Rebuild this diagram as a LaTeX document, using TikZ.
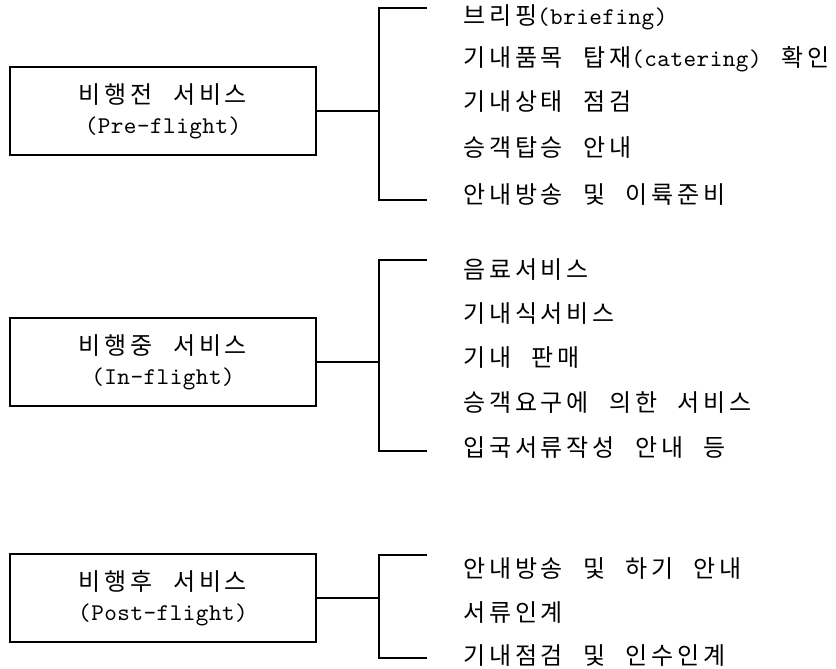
\documentclass[tikz,border=0pt]{standalone}
\usepackage{fontspec}
\newfontfamily\kr{Noto Sans CJK KR}[LetterSpace=16, WordSpace=2.2]
\newfontfamily\ttl{lmmono10-regular}[Extension=.otf, LetterSpace=2]
\begin{document}
\begin{tikzpicture}[x=1pt, y=-1pt,
  every node/.style={font=\fontsize{24}{30}\selectfont\kr},
  catbox/.style={draw, line width=1.6pt, minimum width=306pt, minimum height=88pt, align=center, inner sep=0pt},
  item/.style={anchor=west, inner sep=0pt},
  wire/.style={line width=1.6pt}]
\useasboundingbox (0,0) rectangle (836,669);
% boxes
\node[catbox] (pre)  at (163,111) {비행전 서비스\\{\ttl (Pre-flight)}};
\node[catbox] (in)   at (163,362) {비행중 서비스\\{\ttl (In-flight)}};
\node[catbox] (post) at (163,598) {비행후 서비스\\{\ttl (Post-flight)}};
% junctions and bracket ends
\coordinate (j1) at (379,111);
\coordinate (j1t) at (379,8);   \coordinate (j1b) at (379,200);
\coordinate (e1t) at (427,8);   \coordinate (e1b) at (427,200);
\coordinate (j2) at (379,362);
\coordinate (j2t) at (379,260); \coordinate (j2b) at (379,451);
\coordinate (e2t) at (427,260); \coordinate (e2b) at (427,451);
\coordinate (j3) at (379,598);
\coordinate (j3t) at (379,555); \coordinate (j3b) at (379,658);
\coordinate (e3t) at (427,555); \coordinate (e3b) at (427,658);
\draw[wire] (pre.east) -- (j1);
\draw[wire] (e1t) -- (j1t) -- (j1b) -- (e1b);
\draw[wire] (in.east) -- (j2);
\draw[wire] (e2t) -- (j2t) -- (j2b) -- (e2b);
\draw[wire] (post.east) -- (j3);
\draw[wire] (e3t) -- (j3t) -- (j3b) -- (e3b);
% items
\node[item] (a1) at (463,17)  {브리핑{\ttl (briefing)}};
\node[item] (a2) at (463,59)  {기내품목 탑재{\ttl (catering)} 확인};
\node[item] (a3) at (463,102) {기내상태 점검};
\node[item] (a4) at (463,148) {승객탑승 안내};
\node[item] (a5) at (463,195) {안내방송 및 이륙준비};
\node[item] (b1) at (463,270) {음료서비스};
\node[item] (b2) at (463,314) {기내식서비스};
\node[item] (b3) at (463,358) {기내 판매};
\node[item] (b4) at (463,403) {승객요구에 의한 서비스};
\node[item] (b5) at (463,448) {입국서류작성 안내 등};
\node[item] (c1) at (463,569) {안내방송 및 하기 안내};
\node[item] (c2) at (463,613) {서류인계};
\node[item] (c3) at (463,656) {기내점검 및 인수인계};
\end{tikzpicture}
\end{document}
